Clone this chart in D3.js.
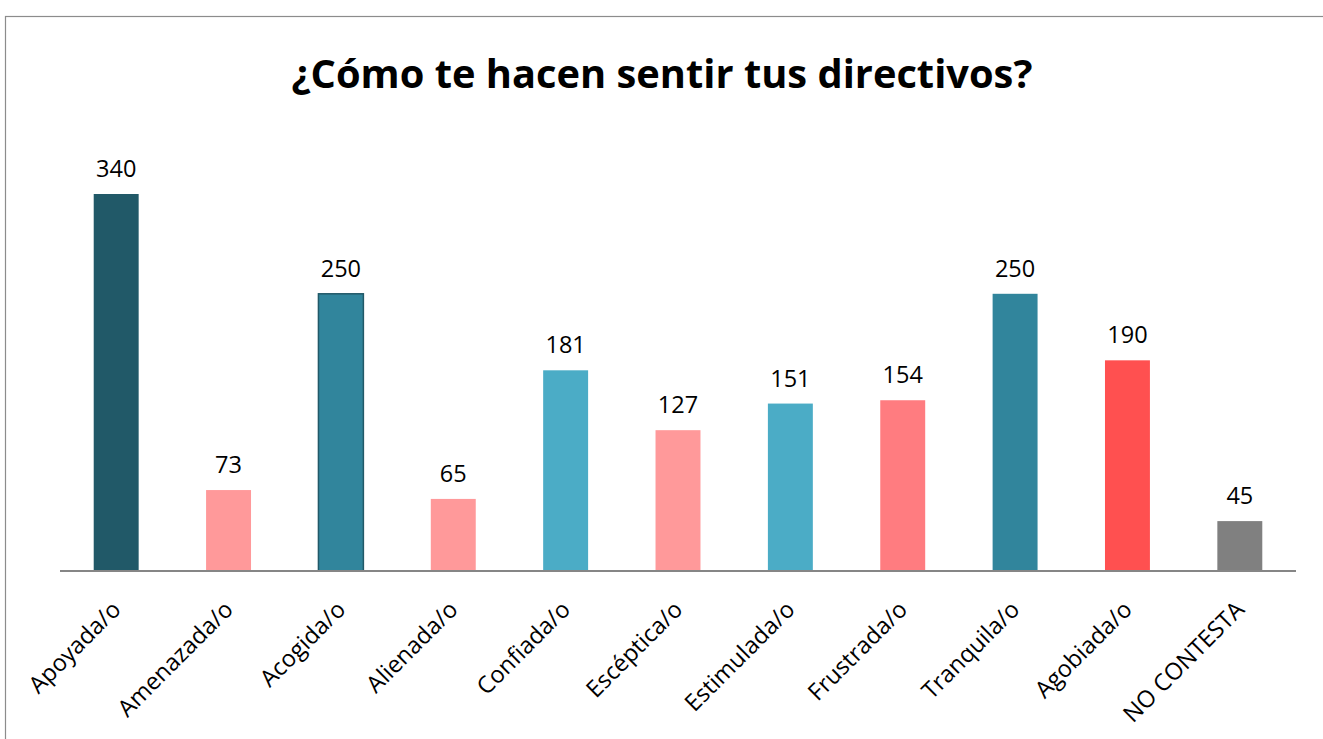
<!DOCTYPE html>
<html>
<head>
<meta charset="utf-8">
<script src="https://cdn.jsdelivr.net/npm/d3@7/dist/d3.min.js"></script>
<style>
  html, body { margin: 0; padding: 0; background: #fff; }
  svg { display: block; }
</style>
</head>
<body>
<svg id="chart" width="1323" height="739"></svg>
<script>
// Survey answers: how respondents feel about their managers
const categories = ["Apoyada/o", "Amenazada/o", "Acogida/o", "Alienada/o", "Confiada/o",
  "Escéptica/o", "Estimulada/o", "Frustrada/o", "Tranquila/o", "Agobiada/o", "NO CONTESTA"];
const values = [340, 73, 250, 65, 181, 127, 151, 154, 250, 190, 45];
const barColors = ["#215968", "#FF999A", "#31859C", "#FF999A", "#4BACC6",
  "#FF999A", "#4BACC6", "#FF7C80", "#31859C", "#FF5050", "#808080"];
const title = "¿Cómo te hacen sentir tus directivos?";

const FONT = "'Open Sans', 'DejaVu Sans', sans-serif";
const svg = d3.select("#chart");
const W = 1323, H = 739;
const plot = { left: 60, right: 1296, top: 100, bottom: 571 };

// Outer chart frame
svg.append("rect")
  .attr("x", 5.5).attr("y", 16.5)
  .attr("width", W + 10).attr("height", H + 10)
  .attr("fill", "#fff").attr("stroke", "#8c8c8c").attr("stroke-width", 1.2);

const x = d3.scaleBand().domain(categories).range([plot.left, plot.right])
  .paddingInner(0.6).paddingOuter(0.3);
const y = d3.scaleLinear().domain([0, 340]).range([plot.bottom, 194]);

const data = categories.map((c, i) => ({ cat: c, value: values[i], color: barColors[i] }));

// Bars
svg.append("g").selectAll("rect").data(data).join("rect")
  .attr("x", d => x(d.cat))
  .attr("y", d => y(d.value))
  .attr("width", x.bandwidth())
  .attr("height", d => y(0) - y(d.value))
  .attr("fill", d => d.color)
  .attr("stroke", d => d.cat === "Acogida/o" ? "#215968" : "none")
  .attr("stroke-width", 1.5);

// Value labels
svg.append("g").selectAll("text").data(data).join("text")
  .attr("x", d => x(d.cat) + x.bandwidth() / 2)
  .attr("y", d => y(d.value) - 17)
  .attr("text-anchor", "middle")
  .attr("font-family", FONT)
  .attr("font-size", 23.5)
  .attr("fill", "#000")
  .text(d => d.value);

// Category axis
const axis = svg.append("g").attr("transform", `translate(0,${plot.bottom})`)
  .call(d3.axisBottom(x).tickSize(0).tickPadding(0));
axis.select(".domain").attr("stroke", "#868686").attr("stroke-width", 2)
  .attr("d", `M${plot.left},0H${plot.right}`);
axis.selectAll(".tick text")
  .attr("font-family", FONT)
  .attr("font-size", 23.5)
  .attr("fill", "#000")
  .attr("text-anchor", "end")
  .attr("dy", 0)
  .attr("y", 0)
  .attr("transform", "translate(6,40) rotate(-45)");

// Title, sized to span the chart heading width
const t = svg.append("text")
  .attr("x", 662).attr("y", 88)
  .attr("text-anchor", "middle")
  .attr("font-family", FONT)
  .attr("font-weight", "bold")
  .attr("font-size", 36)
  .attr("fill", "#000")
  .text(title);
const tw = t.node().getComputedTextLength();
t.attr("font-size", 36 * 741 / tw);
</script>
</body>
</html>
